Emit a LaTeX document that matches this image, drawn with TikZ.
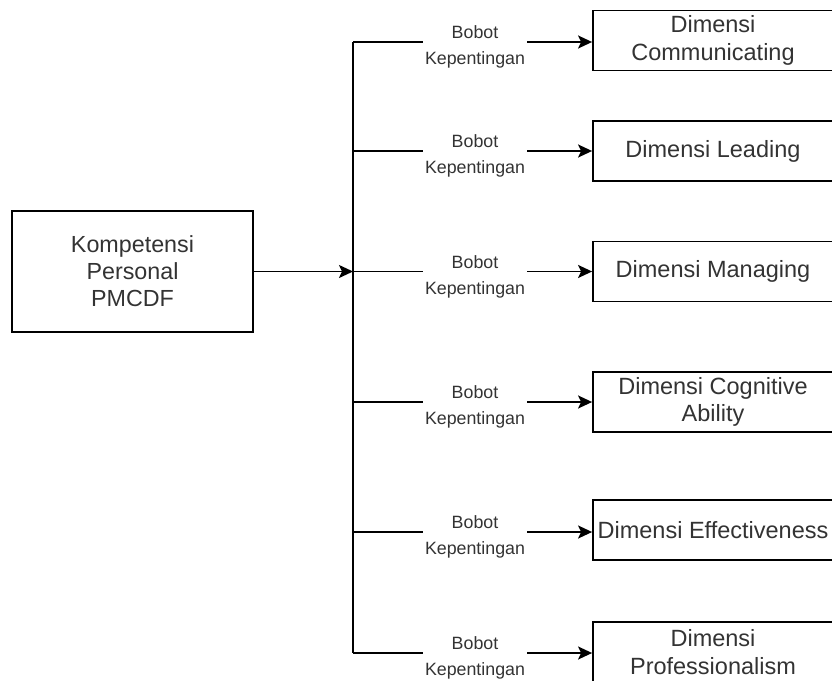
\documentclass[tikz,border=0pt]{standalone}
\usepackage{fontspec}
\setmainfont{Liberation Sans}
\usetikzlibrary{arrows.meta}
\begin{document}
\begin{tikzpicture}[x=1pt,y=-1pt,
  box/.style={draw=black, line width=1.8pt, rectangle, align=center, text=black!80,
    font=\fontsize{23.5}{27.5}\selectfont, inner sep=0pt},
  dimbox/.style={box, minimum width=240pt, minimum height=60pt},
  mainbox/.style={box, minimum width=241pt, minimum height=121pt, font=\fontsize{23.3}{27}\selectfont},
  conn/.style={draw=black, line width=1.8pt},
  arr/.style={conn, -{Stealth[length=14pt,width=13pt,inset=3pt]}},
  lbl/.style={fill=white, align=center, text=black!80, font=\fontsize{17.8}{26}\selectfont, inner sep=2pt, minimum width=104pt}
]
\useasboundingbox (0,0) rectangle (832,680);
\clip (0,0) rectangle (832,680);

\node[mainbox] (main) at (132.5,271.5) {Kompetensi\\Personal\\PMCDF};

\node[dimbox] (d1) at (713,40.5) {Dimensi\\Communicating};
\node[dimbox] (d2) at (713,151) {Dimensi Leading};
\node[dimbox] (d3) at (713,271.5) {Dimensi Managing};
\node[dimbox] (d4) at (713,402) {Dimensi Cognitive\\Ability};
\node[dimbox] (d5) at (713,530) {Dimensi Effectiveness};
\node[dimbox] (d6) at (713,652) {Dimensi\\Professionalism};

\coordinate (j) at (353,271.5);
\coordinate (b1) at (353,42);
\coordinate (b2) at (353,151);
\coordinate (b3) at (353,271.5);
\coordinate (b4) at (353,402);
\coordinate (b5) at (353,532);
\coordinate (b6) at (353,653);

\draw[conn] (b1) -- (b6);
\draw[arr] (main.east) -- (j);

\foreach \i in {1,...,6} {
  \draw[arr] (b\i) -- (d\i.west |- b\i);
  \node[lbl] (l\i) at ([shift={(122pt,-5pt)}]b\i) {Bobot\\Kepentingan};
}
\end{tikzpicture}
\end{document}
